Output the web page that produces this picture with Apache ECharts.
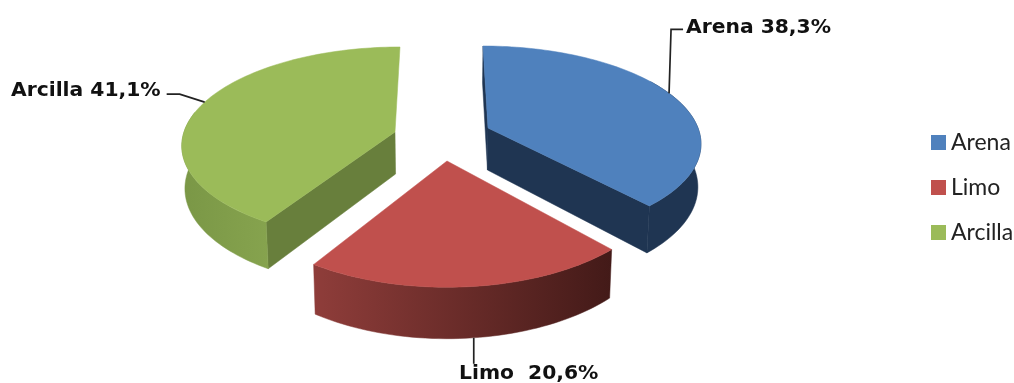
<!DOCTYPE html>
<html>
<head>
<meta charset="utf-8">
<style>html,body{margin:0;padding:0;background:#fff}#chart{width:1014px;height:383px}</style>
<script src="https://cdn.jsdelivr.net/npm/echarts@6/dist/echarts.min.js"></script>
</head>
<body>
<div id="chart"></div>
<script>
// Soil texture shares, in percent
const categories = ['Arena', 'Limo', 'Arcilla'];
const shares = [38.3, 20.6, 41.1];
const labelTexts = ['Arena 38,3%', 'Limo  20,6%', 'Arcilla 41,1%'];

const topColors = ['#4F81BD', '#C0504D', '#9BBB59'];
const rimStops = [['#1F3552', '#1F3552'], ['#8F3D3A', '#431A18'], ['#7A9746', '#86A34E']];
const innerColors = ['#1F3552', '#5C2422', '#687F3C'];

// Perspective of each exploded wedge: apex, radii, foreshortening, lean, thickness,
// which radial cut faces show beside the top, and how many degrees of rim face the viewer
const wedges = [
  { ax: 488, ay: 128, A: 210, B: 93.8, p: 0.144, k: 5, D: 42, cuts: [0, 1], rimSpan: 80 },
  { ax: 447, ay: 161, A: 212, B: 103, p: 0.184, k: 0, D: 42, cuts: [], rimSpan: 74.2 },
  { ax: 395, ay: 132, A: 211, B: 95.3, p: 0.1206, k: -5, D: 42, cuts: [0], rimSpan: 70 }
];
const viewCentreX = 443;

// Leader lines: angle on the rim plus the bend and end offsets; label anchor
const leaders = [
  { angle: 67, bends: [[2, -64], [14, -64]], text: [686, 28, 'left'] },
  { angle: 174, bends: [[0, 26]], h: 1, text: [459, 374, 'left'] },
  { angle: 289, bends: [[-25, -8], [-38, -8]], text: [11, 91, 'left'] }
];

const total = shares.reduce((a, b) => a + b, 0);
const startAngles = shares.map((_, i) =>
  shares.slice(0, i).reduce((a, b) => a + b, 0) / total * 360);

// Maps a polar position on a wedge (degrees clockwise from the back) to the screen;
// h = 0 is the top face, h = 1 the underside.
function project(w, deg, r, h) {
  const t = deg * Math.PI / 180;
  const X = Math.sin(t) * r, Y = -Math.cos(t) * r;
  const s = 1 / (1 - w.p * Y);
  let x = w.ax + w.A * X * s + w.k * Y;
  const y = w.ay + w.B * Y * s + h * w.D * s;
  x -= (x - viewCentreX) * 0.012 * h;
  return [x, y];
}

function arcPoints(w, from, to, h) {
  const pts = [];
  const n = Math.max(8, Math.round(Math.abs(to - from) / 1.5));
  for (let j = 0; j <= n; j++) pts.push(project(w, from + (to - from) * j / n, 1, h));
  return pts;
}

function renderWedge(i) {
  const w = wedges[i], a0 = startAngles[i], a1 = a0 + shares[i] / total * 360;
  const apexTop = project(w, 0, 0, 0), apexBottom = project(w, 0, 0, 1);
  const topArc = arcPoints(w, a0, a1, 0);

  // The rim is built only along the part turned towards the viewer: the near end of
  // the arc for wedges that reach round to the back on one side.
  const rimFrom = i === 0 ? a1 - w.rimSpan : a0;
  const rimTo = i === 0 ? a1 : a0 + w.rimSpan;
  const rim = arcPoints(w, rimFrom, rimTo, 0).concat(arcPoints(w, rimFrom, rimTo, 1).reverse());
  const xs = rim.map(p => p[0]);
  const gradient = new echarts.graphic.LinearGradient(
    Math.min(...xs), 0, Math.max(...xs), 0,
    [{ offset: 0, color: rimStops[i][0] }, { offset: 1, color: rimStops[i][1] }], true);
  const face = (angle) => [apexTop, project(w, angle, 1, 0), project(w, angle, 1, 1), apexBottom];
  const poly = (points, fill) => ({ type: 'polygon', shape: { points }, style: { fill, stroke: fill, lineWidth: 0.5 } });

  const l = leaders[i];
  const anchor = project(w, l.angle, 1, l.h || 0);
  const line = [anchor].concat(l.bends.map(b => [anchor[0] + b[0], anchor[1] + b[1]]));

  return {
    type: 'group',
    children: [
      ...w.cuts.map(c => poly(face(c ? a1 : a0), innerColors[i])),
      poly(rim, gradient),
      poly([apexTop].concat(topArc), topColors[i]),
      { type: 'polyline', shape: { points: line }, style: { fill: 'none', stroke: '#222', lineWidth: 1.7 } },
      {
        type: 'text',
        style: {
          x: l.text[0], y: l.text[1], text: labelTexts[i], align: l.text[2], verticalAlign: 'middle',
          fill: '#111', font: 'bold 20.3px "DejaVu Sans"'
        }
      }
    ]
  };
}

const chart = echarts.init(document.getElementById('chart'), null, { renderer: 'canvas' });
chart.setOption({
  animation: false,
  backgroundColor: '#fff',
  legend: {
    orient: 'vertical', left: 931, top: 131, padding: 0,
    icon: 'rect', itemWidth: 15, itemHeight: 15, itemGap: 22,
    data: categories,
    textStyle: { fontFamily: 'Lato', fontSize: 23, color: '#222' }
  },
  series: categories.map((name, i) => ({
    type: 'custom',
    name,
    coordinateSystem: 'none',
    silent: true,
    itemStyle: { color: topColors[i] },
    data: [shares[i]],
    renderItem: () => renderWedge(i)
  }))
});
</script>
</body>
</html>
